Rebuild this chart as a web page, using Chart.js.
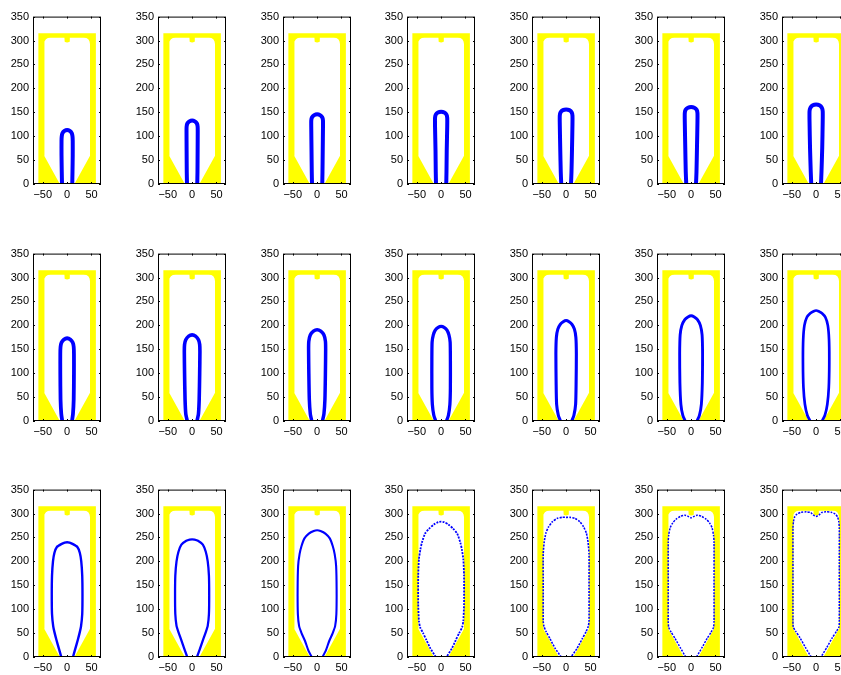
<!DOCTYPE html>
<html>
<head>
<meta charset="utf-8">
<script src="https://cdn.jsdelivr.net/npm/chart.js@4.4.1/dist/chart.umd.min.js"></script>
<style>
  html, body { margin: 0; padding: 0; background: #fff; width: 841px; height: 675px; overflow: hidden; }
  canvas { position: absolute; }
</style>
</head>
<body>
<script>
// tick labels
const xTicks = [-50, 0, 50];
const yTicks = [0, 50, 100, 150, 200, 250, 300, 350];

// mould: outer block and the cavity cut into it
const mould = [[-59, 0], [-59, 315], [59, 315], [59, 0]];
const cavity = [[-15, 0], [-47, 59], [-47, 292], [-46, 298], [-43.5, 302.5], [-39.5, 305.2], [-34, 306],
  [-5.5, 306], [-5.5, 300], [-4.5, 297.5], [-2.5, 296.3], [0, 296], [2.5, 296.3], [4.5, 297.5], [5.5, 300], [5.5, 306],
  [34, 306], [39.5, 305.2], [43.5, 302.5], [46, 298], [47, 292], [47, 59], [15, 0]];

// blown outline per frame (row by row)
const outlines = [
  [[-10.5,0],[-11,25],[-11.5,60],[-11.5,90],[-11,100],[-9.5,106.5],[-5.5,111],[0,113],[5.5,111],[9.5,106.5],[11,100],[11.5,90],[11.5,60],[11,25],[10.5,0]],
  [[-10.5,0],[-11,25],[-11.3,70],[-11.5,110],[-11.3,120],[-9.8,126.5],[-5.6,131],[0,133],[5.6,131],[9.8,126.5],[11.3,120],[11.5,110],[11.3,70],[11,25],[10.5,0]],
  [[-10.5,0],[-11,25],[-11.5,70],[-12,115],[-12,133],[-10.4,139.5],[-6,144],[0,146],[6,144],[10.4,139.5],[12,133],[12,115],[11.5,70],[11,25],[10.5,0]],
  [[-10.5,0],[-11,25],[-11.5,70],[-12.5,120],[-12.5,138],[-11,145],[-6.5,149.5],[0,151],[6.5,149.5],[11,145],[12.5,138],[12.5,120],[11.5,70],[11,25],[10.5,0]],
  [[-10,0],[-11,25],[-12,70],[-13,125],[-13,143],[-11.3,150],[-6.5,154.5],[0,156],[6.5,154.5],[11.3,150],[13,143],[13,125],[12,70],[11,25],[10,0]],
  [[-10,0],[-11,25],[-12,75],[-13,130],[-13,148],[-11.3,155],[-6.5,159.5],[0,161],[6.5,159.5],[11.3,155],[13,148],[13,130],[12,75],[11,25],[10,0]],
  [[-10,0],[-11,25],[-12.5,75],[-13.5,130],[-13.5,152.5],[-11.7,159.5],[-6.8,164.5],[0,166],[6.8,164.5],[11.7,159.5],[13.5,152.5],[13.5,130],[12.5,75],[11,25],[10,0]],

  [[-10,0],[-12,15],[-13.5,45],[-14,100],[-14,140],[-13.5,155],[-11.5,164],[-6.5,170.5],[0,173],[6.5,170.5],[11.5,164],[13.5,155],[14,140],[14,100],[13.5,45],[12,15],[10,0]],
  [[-10,0],[-13,15],[-14.5,45],[-15.5,100],[-16,145],[-15.5,160],[-13,170],[-7,177.5],[0,180],[7,177.5],[13,170],[15.5,160],[16,145],[15.5,100],[14.5,45],[13,15],[10,0]],
  [[-11,0],[-14,15],[-16,45],[-17,100],[-17.5,150],[-17,167],[-14,180],[-7.5,188],[0,191],[7.5,188],[14,180],[17,167],[17.5,150],[17,100],[16,45],[14,15],[11,0]],
  [[-11,0],[-15,12],[-18,35],[-19,70],[-19,130],[-18.5,165],[-16,180],[-12,190],[-6,196],[0,198],[6,196],[12,190],[16,180],[18.5,165],[19,130],[19,70],[18,35],[15,12],[11,0]],
  [[-11.5,0],[-16,12],[-19.5,35],[-20.5,80],[-21,140],[-20,175],[-17,192],[-12,202],[-6,207.5],[0,210],[6,207.5],[12,202],[17,192],[20,175],[21,140],[20.5,80],[19.5,35],[16,12],[11.5,0]],
  [[-12,0],[-17,12],[-21,35],[-23,80],[-23.5,140],[-22.5,180],[-19,200],[-13,212],[-6.5,217.5],[0,220],[6.5,217.5],[13,212],[19,200],[22.5,180],[23.5,140],[23,80],[21,35],[17,12],[12,0]],
  [[-12,0],[-18,12],[-23,35],[-26,70],[-27,120],[-26.5,170],[-24,200],[-19,217],[-12,225.5],[-5,229.5],[0,231],[5,229.5],[12,225.5],[19,217],[24,200],[26.5,170],[27,120],[26,70],[23,35],[18,12],[12,0]],

  [[-12,0],[-17,18],[-22,36],[-26,52],[-28.5,64],[-31,90],[-31.5,130],[-31,170],[-29,200],[-26,218],[-21,230],[-12,236],[-5,239],[0,240],[5,239],[12,236],[21,230],[26,218],[29,200],[31,170],[31.5,130],[31,90],[28.5,64],[26,52],[22,36],[17,18],[12,0]],
  [[-10,0],[-16,17],[-22,35],[-28,52],[-32,65],[-34.5,90],[-35,130],[-34.5,170],[-32,200],[-28,220],[-22,235],[-12,243],[-5,245.5],[0,246],[5,245.5],[12,243],[22,235],[28,220],[32,200],[34.5,170],[35,130],[34.5,90],[32,65],[28,52],[22,35],[16,17],[10,0]],
  [[-11,0],[-18,14],[-25,34],[-32,50],[-37,65],[-39.5,90],[-40,140],[-39,190],[-36,215],[-32,232],[-26,248],[-17,258],[-7,263.5],[0,265],[7,263.5],[17,258],[26,248],[32,232],[36,215],[39,190],[40,140],[39.5,90],[37,65],[32,50],[25,34],[18,14],[11,0]],
  [[-11,0],[-22,18],[-30,35],[-37,50],[-43,62],[-45.5,75],[-47,110],[-47,170],[-45.5,205],[-42.5,225],[-39.5,239],[-33,258],[-25,268],[-15,277],[-6,282],[0,283],[6,282],[15,277],[25,268],[33,258],[39.5,239],[42.5,225],[45.5,205],[47,170],[47,110],[45.5,75],[43,62],[37,50],[30,35],[22,18],[11,0]],
  [[-10,0],[-22.5,18],[-33,38],[-41,53],[-45.5,64],[-47,75],[-47,150],[-47,215],[-45,240],[-41.5,259],[-36,272],[-28,283],[-18,290],[-8,292],[0,292],[8,292],[18,290],[28,283],[36,272],[41.5,259],[45,240],[47,215],[47,150],[47,75],[45.5,64],[41,53],[33,38],[22.5,18],[10,0]],
  [[-11,0],[-22,19],[-33,39],[-41,52],[-46,62],[-47,75],[-47,150],[-47,240],[-46,255],[-43,270],[-38,280],[-31,288],[-22,294],[-13,296.5],[-6,294],[0,291],[6,294],[13,296.5],[22,294],[31,288],[38,280],[43,270],[46,255],[47,240],[47,150],[47,75],[46,62],[41,52],[33,39],[22,19],[11,0]],
  [[-10,0],[-22,20],[-33,40],[-42,54],[-47,63],[-47.5,80],[-47.5,200],[-47.5,270],[-46.5,283],[-44,293],[-39,299],[-31,302.5],[-20,303.5],[-11,302],[-6,297],[0,294],[6,297],[11,302],[20,303.5],[31,302.5],[39,299],[44,293],[46.5,283],[47.5,270],[47.5,200],[47.5,80],[47,63],[42,54],[33,40],[22,20],[10,0]]
];

// layout of the 3 x 7 grid (pixels)
const colLeft = [33, 158, 283, 407, 532, 657, 782];
const rowTop = [14, 251, 487];
const axW = 68, axH = 170;
const padL = 36, padT = 8, padR = 12, padB = 22;

// line look: markers get sparser as the outline grows
const lineWidths = [4, 4, 4, 4, 4, 4, 4, 3.8, 3.6, 3.5, 3.3, 3.1, 2.9, 2.7, 2.4, 2.3, 2.1, 1.8, 1.6, 1.5, 1.5];
const FONT = { family: '"Liberation Sans", Arial, sans-serif', size: 11 };

const toPts = arr => arr.map(([x, y]) => ({ x, y }));
const minus = v => String(v).replace('-', '\u2212');

// black box + inward ticks on all four sides, like matlab
const axesBox = {
  id: 'axesBox',
  afterDraw(chart) {
    const { ctx, chartArea: a, scales: { x, y } } = chart;
    ctx.save();
    ctx.strokeStyle = '#000';
    ctx.lineWidth = 1;
    ctx.beginPath();
    xTicks.forEach(v => {
      const px = Math.round(x.getPixelForValue(v)) + 0.5;
      ctx.moveTo(px, a.bottom); ctx.lineTo(px, a.bottom - 2);
      ctx.moveTo(px, a.top); ctx.lineTo(px, a.top + 2);
    });
    yTicks.forEach(v => {
      const py = Math.round(y.getPixelForValue(v)) + 0.5;
      ctx.moveTo(a.left, py); ctx.lineTo(a.left + 2, py);
      ctx.moveTo(a.right, py); ctx.lineTo(a.right - 2, py);
    });
    ctx.stroke();
    ctx.strokeRect(a.left + 0.5, a.top + 0.5, a.right - a.left - 1, a.bottom - a.top - 1);
    ctx.restore();
  }
};

function makePanel(idx) {
  const r = Math.floor(idx / 7), c = idx % 7;
  const cv = document.createElement('canvas');
  cv.width = padL + axW + padR;
  cv.height = padT + axH + padB;
  cv.style.left = (colLeft[c] - padL) + 'px';
  cv.style.top = (rowTop[r] - padT) + 'px';
  document.body.appendChild(cv);

  new Chart(cv.getContext('2d'), {
    type: 'scatter',
    data: {
      datasets: [
        {
          data: toPts(outlines[idx]), showLine: true, tension: 0.2,
          borderColor: '#0000ff', borderWidth: lineWidths[idx],
          borderDash: idx >= 17 ? [2, 1.2] : [],
          pointRadius: 0, fill: false, order: 0
        },
        {
          data: toPts(cavity), showLine: true, borderWidth: 0, borderColor: 'rgba(0,0,0,0)',
          backgroundColor: '#ffffff', fill: 'shape', pointRadius: 0, order: 1
        },
        {
          data: toPts(mould), showLine: true, borderWidth: 0, borderColor: 'rgba(0,0,0,0)',
          backgroundColor: '#ffff00', fill: 'shape', pointRadius: 0, order: 2
        }
      ]
    },
    options: {
      responsive: false,
      animation: false,
      events: [],
      layout: { padding: { left: 0, top: padT, right: padR, bottom: 0 } },
      plugins: { legend: { display: false }, tooltip: { enabled: false } },
      scales: {
        x: {
          type: 'linear', min: -70, max: 69.5,
          afterBuildTicks: s => { s.ticks = xTicks.map(v => ({ value: v })); },
          afterFit: s => { s.height = padB; },
          grid: { display: false, drawTicks: false },
          border: { display: false },
          ticks: { color: '#000', font: FONT, padding: 4, maxRotation: 0, autoSkip: false, callback: minus }
        },
        y: {
          type: 'linear', min: 0, max: 350,
          afterBuildTicks: s => { s.ticks = yTicks.map(v => ({ value: v })); },
          afterFit: s => { s.width = padL; },
          grid: { display: false, drawTicks: false },
          border: { display: false },
          ticks: { color: '#000', font: FONT, padding: 4, autoSkip: false }
        }
      }
    },
    plugins: [axesBox]
  });
}

for (let i = 0; i < outlines.length; i++) makePanel(i);
</script>
</body>
</html>
